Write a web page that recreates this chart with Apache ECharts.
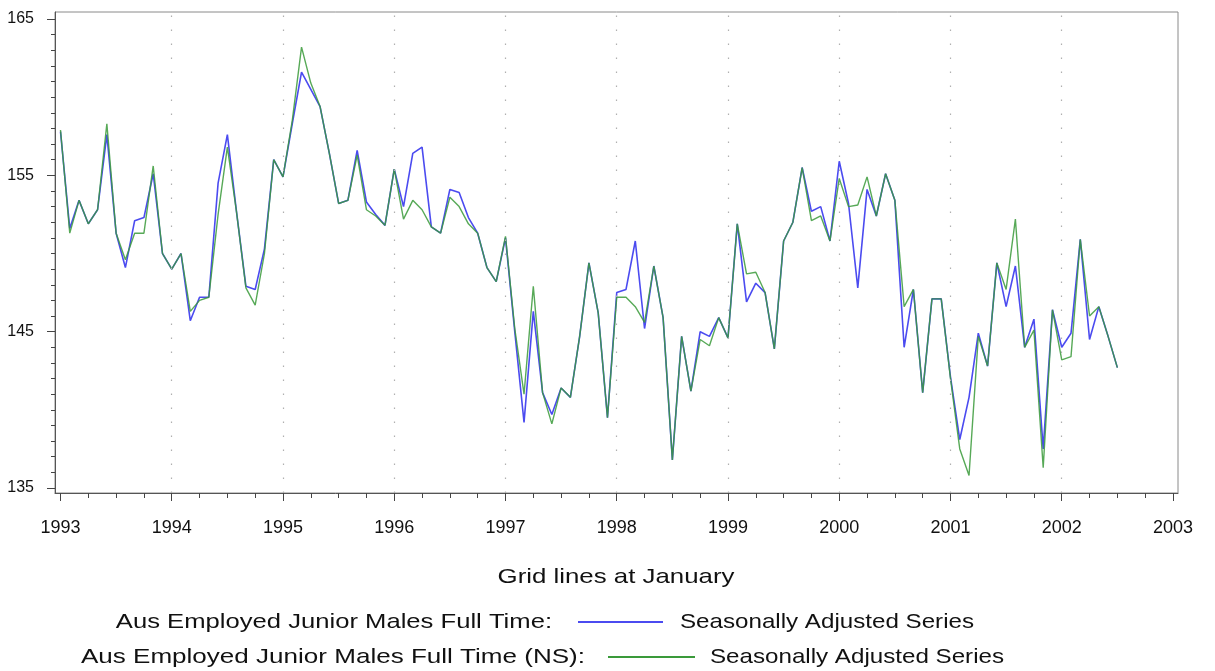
<!DOCTYPE html>
<html>
<head>
<meta charset="utf-8">
<script src="https://cdn.jsdelivr.net/npm/echarts@6/dist/echarts.min.js"></script>
<style>
html,body{margin:0;padding:0;background:#fff;}
#chart{width:1215px;height:671px;}
</style>
</head>
<body>
<div id="chart"></div>
<script>
// ---- data (monthly, Jan 1993 .. Jul 2002) ----
const startYear = 1993;
const yearLabels = [1993, 1994, 1995, 1996, 1997, 1998, 1999, 2000, 2001, 2002, 2003];
const gridYears = [1994, 1995, 1996, 1997, 1998, 1999, 2000, 2001, 2002];
const yTickLabels = [135, 145, 155, 165];
const seriesNames = ['Aus Employed Junior Males Full Time', 'Aus Employed Junior Males Full Time (NS)'];
const seriesSuffix = 'Seasonally Adjusted Series';
const axisTitle = 'Grid lines at January';

const saSeries = [
  157.8, 151.6, 153.4, 151.9, 152.8, 157.6, 151.3, 149.1, 152.1, 152.3, 155.1, 150.0,
  149.0, 150.0, 145.7, 147.2, 147.2, 154.5, 157.6, 152.6, 147.9, 147.7, 150.3, 156.0,
  154.9, 158.3, 161.6, 160.5, 159.4, 156.4, 153.2, 153.4, 156.6, 153.3, 152.5, 151.8,
  155.4, 153.0, 156.4, 156.8, 151.7, 151.3, 154.1, 153.9, 152.3, 151.3, 149.1, 148.2,
  151.0, 145.0, 139.2, 146.3, 141.1, 139.7, 141.4, 140.8, 144.7, 149.4, 146.2, 139.5,
  147.5, 147.7, 150.8, 145.2, 149.2, 145.9, 136.8, 144.7, 141.2, 145.0, 144.7, 145.9,
  144.6, 151.9, 146.9, 148.1, 147.5, 143.9, 150.8, 152.0, 155.5, 152.7, 153.0, 150.8,
  155.9, 153.2, 147.8, 154.1, 152.4, 155.1, 153.4, 144.0, 147.7, 141.1, 147.1, 147.1,
  142.1, 138.1, 140.8, 144.9, 142.8, 149.4, 146.6, 149.2, 144.0, 145.8, 137.5, 146.4,
  144.0, 144.9, 150.9, 144.5, 146.6, 144.7, 142.7
];
const nsSeries = [
  157.9, 151.3, 153.4, 151.9, 152.8, 158.3, 151.3, 149.6, 151.3, 151.3, 155.6, 150.0,
  149.0, 150.0, 146.3, 147.0, 147.2, 152.5, 156.8, 152.6, 147.8, 146.7, 150.0, 156.0,
  154.9, 158.5, 163.2, 160.9, 159.4, 156.4, 153.2, 153.4, 156.3, 152.8, 152.4, 151.8,
  155.4, 152.2, 153.4, 152.8, 151.7, 151.3, 153.6, 153.0, 151.9, 151.3, 149.1, 148.2,
  151.1, 145.2, 141.0, 147.9, 141.1, 139.1, 141.4, 140.8, 144.7, 149.4, 146.2, 139.5,
  147.2, 147.2, 146.6, 145.6, 149.2, 145.9, 136.8, 144.7, 141.2, 144.5, 144.1, 145.9,
  144.6, 151.9, 148.7, 148.8, 147.5, 143.9, 150.8, 152.0, 155.5, 152.1, 152.4, 150.8,
  154.8, 153.0, 153.1, 154.9, 152.4, 155.1, 153.4, 146.6, 147.7, 141.1, 147.1, 147.1,
  142.0, 137.5, 135.8, 144.7, 142.8, 149.4, 147.7, 152.2, 144.0, 145.1, 136.3, 146.4,
  143.2, 143.4, 150.9, 146.0, 146.6, 144.7, 142.7
];

// ---- build ----
const toPoints = arr => arr.map((v, i) => [startYear + i / 12, v]);
const quarterTicks = [];
for (let y = yearLabels[0]; y < yearLabels[yearLabels.length - 1]; y++) {
  for (let q = 0; q < 4; q++) quarterTicks.push(y + q / 4);
}
quarterTicks.push(yearLabels[yearLabels.length - 1]);
const unitTicks = [];
for (let v = yTickLabels[0]; v <= yTickLabels[yTickLabels.length - 1]; v++) unitTicks.push(v);

const FONT = '"Liberation Sans", Arial, Helvetica, sans-serif';
const BLUE = '#4b4bf0';
const GREEN = '#3a9a3a';

const xMin = 1992.9506, xMax = 2003.045;
const yMin = 134.68, yMax = 165.448;

const chart = echarts.init(document.getElementById('chart'), null, {renderer: 'canvas'});
const txt = (text, x, y, align, sx) => ({
  type: 'text', x: x, y: y, scaleX: sx,
  style: {text: text, font: '21px ' + FONT, fill: '#111', textAlign: align, textVerticalAlign: 'middle'}
});
const option = {
  backgroundColor: '#ffffff',
  animation: false,
  grid: {left: 55, right: 37, top: 12, bottom: 178, show: true, borderColor: '#8a8a8a', borderWidth: 1, backgroundColor: 'transparent'},
  xAxis: [
    {
      type: 'value', min: xMin, max: xMax, position: 'bottom',
      axisLine: {show: true, lineStyle: {color: '#555', width: 1}},
      axisTick: {show: true, length: 8, customValues: yearLabels, lineStyle: {color: '#444'}},
      axisLabel: {show: true, customValues: yearLabels, margin: 26, fontFamily: FONT, fontSize: 18, color: '#111',
                  formatter: v => String(Math.round(v))},
      splitLine: {show: false}
    },
    {
      type: 'value', min: xMin, max: xMax, position: 'bottom',
      axisLine: {show: false},
      axisTick: {show: true, length: 5, customValues: quarterTicks, lineStyle: {color: '#444'}},
      axisLabel: {show: false},
      splitLine: {show: false}
    }
  ],
  yAxis: [
    {
      type: 'value', min: yMin, max: yMax, position: 'left',
      axisLine: {show: true, lineStyle: {color: '#555', width: 1}},
      axisTick: {show: true, length: 8, customValues: yTickLabels, lineStyle: {color: '#444'}},
      axisLabel: {show: true, customValues: yTickLabels, margin: 21, fontFamily: FONT, fontSize: 16, color: '#111',
                  formatter: v => String(Math.round(v))},
      splitLine: {show: false}
    },
    {
      type: 'value', min: yMin, max: yMax, position: 'left',
      axisLine: {show: false},
      axisTick: {show: true, length: 4, customValues: unitTicks, lineStyle: {color: '#444'}},
      axisLabel: {show: false},
      splitLine: {show: false}
    }
  ],
  series: [
    {
      name: seriesNames[0], type: 'line', xAxisIndex: 0, yAxisIndex: 0,
      data: toPoints(saSeries), showSymbol: false, symbol: 'none', z: 3,
      lineStyle: {color: BLUE, width: 1.6},
      markLine: {
        silent: true, symbol: 'none', label: {show: false}, animation: false,
        lineStyle: {color: '#b0b0b0', type: [1.5, 12.5], width: 1.2},
        data: gridYears.map(y => ({xAxis: y}))
      }
    },
    {
      name: seriesNames[1], type: 'line', xAxisIndex: 0, yAxisIndex: 0,
      data: toPoints(nsSeries), showSymbol: false, symbol: 'none', z: 4,
      lineStyle: {color: GREEN, width: 1.4, opacity: 0.85}
    }
  ],
  graphic: [
    txt(axisTitle, 616, 577, 'center', 1.23),
    txt(seriesNames[0] + ':', 552, 622, 'right', 1.22),
    {type: 'line', shape: {x1: 578, y1: 622, x2: 663, y2: 622}, style: {stroke: BLUE, lineWidth: 2}},
    txt(seriesSuffix, 680, 622, 'left', 1.15),
    txt(seriesNames[1] + ':', 585, 657, 'right', 1.24),
    {type: 'line', shape: {x1: 608, y1: 657, x2: 695, y2: 657}, style: {stroke: GREEN, lineWidth: 2}},
    txt(seriesSuffix, 710, 657, 'left', 1.15)
  ]
};
chart.setOption(option);
</script>
</body>
</html>
